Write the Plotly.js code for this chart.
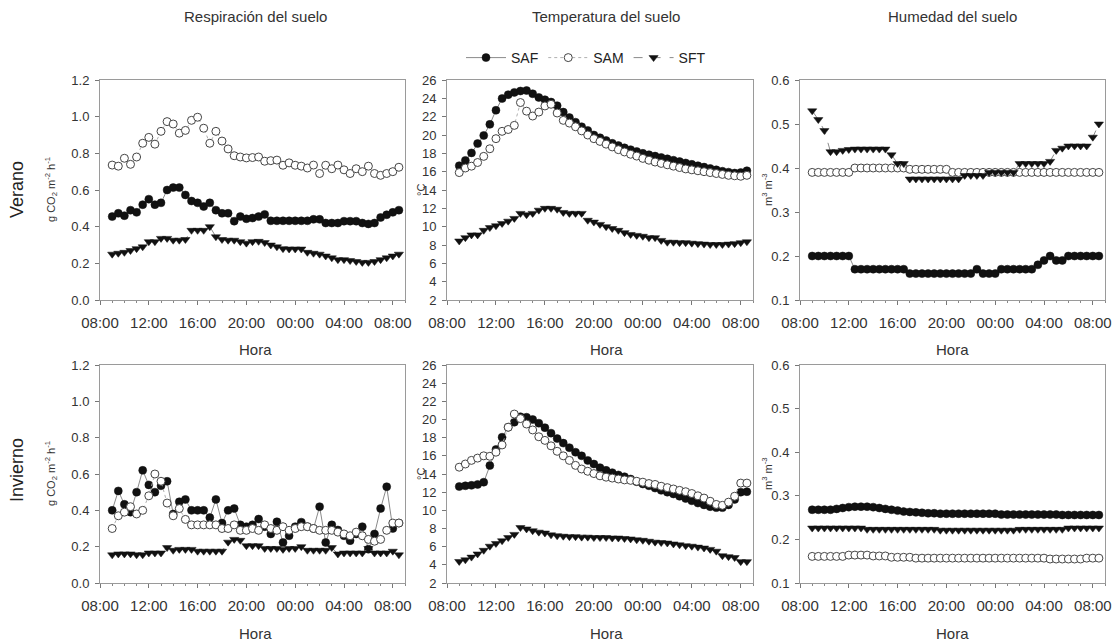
<!DOCTYPE html>
<html>
<head>
<meta charset="utf-8">
<script src="https://cdn.plot.ly/plotly-3.0.1.min.js"></script>
<style>html,body{margin:0;padding:0;background:#fff}#chart{width:1120px;height:642px}</style>
</head>
<body>
<div id="chart"></div>
<script>
// Hours since 00:00 of day 1 (24 = 00:00 next day)
const hours = [9.0, 9.5, 10.0, 10.5, 11.0, 11.5, 12.0, 12.5, 13.0, 13.5, 14.0, 14.5,
  15.0, 15.5, 16.0, 16.5, 17.0, 17.5, 18.0, 18.5, 19.0, 19.5, 20.0, 20.5,
  21.0, 21.5, 22.0, 22.5, 23.0, 23.5, 24.0, 24.5, 25.0, 25.5, 26.0, 26.5,
  27.0, 27.5, 28.0, 28.5, 29.0, 29.5, 30.0, 30.5, 31.0, 31.5, 32.0, 32.5];

const tickVals = [8, 12, 16, 20, 24, 28, 32];
const tickText = ["08:00", "12:00", "16:00", "20:00", "00:00", "04:00", "08:00"];

const seriesNames = ["SAF", "SAM", "SFT"];
const columnTitles = ["Respiración del suelo", "Temperatura del suelo", "Humedad del suelo"];
const rowTitles = ["Verano", "Invierno"];
const yTitles = ["g CO<sub>2</sub> m<sup>-2</sup> h<sup>-1</sup>", "°C", "m<sup>3</sup> m<sup>-3</sup>"];
const xTitle = "Hora";

// Respiración del suelo (g CO2 m-2 h-1) - Verano
const respVeranoSAF = [0.455,0.473,0.46,0.49,0.478,0.52,0.55,0.52,0.53,0.60,0.613,0.613,
  0.573,0.54,0.53,0.51,0.53,0.49,0.473,0.473,0.43,0.455,0.443,0.447,
  0.455,0.467,0.432,0.432,0.432,0.432,0.432,0.432,0.432,0.44,0.44,0.42,
  0.42,0.42,0.43,0.43,0.43,0.42,0.415,0.42,0.45,0.465,0.478,0.49];
const respVeranoSAM = [0.736,0.73,0.773,0.74,0.78,0.855,0.887,0.85,0.92,0.973,0.96,0.91,
  0.925,0.98,0.997,0.937,0.855,0.92,0.867,0.824,0.787,0.78,0.775,0.777,
  0.78,0.757,0.76,0.763,0.735,0.748,0.735,0.73,0.72,0.736,0.69,0.735,
  0.716,0.736,0.71,0.69,0.716,0.70,0.73,0.69,0.68,0.69,0.70,0.724];
const respVeranoSFT = [0.25,0.255,0.26,0.27,0.28,0.29,0.318,0.318,0.336,0.336,0.326,0.326,
  0.33,0.38,0.38,0.38,0.40,0.345,0.33,0.326,0.326,0.318,0.31,0.318,
  0.32,0.313,0.30,0.29,0.28,0.278,0.278,0.278,0.26,0.255,0.25,0.24,
  0.23,0.22,0.22,0.215,0.21,0.205,0.205,0.21,0.22,0.23,0.24,0.25];

// Respiración del suelo - Invierno
const respInviernoSAF = [0.40,0.507,0.433,0.39,0.50,0.62,0.54,0.50,0.535,0.56,0.38,0.447,
  0.46,0.40,0.40,0.40,0.36,0.46,0.33,0.40,0.41,0.32,0.31,0.32,
  0.352,0.31,0.27,0.337,0.223,0.26,0.31,0.335,0.31,0.30,0.42,0.223,
  0.32,0.292,0.26,0.233,0.27,0.31,0.186,0.27,0.41,0.53,0.30,0.33];
const respInviernoSAM = [0.30,0.37,0.39,0.42,0.38,0.40,0.48,0.60,0.56,0.44,0.37,0.41,
  0.35,0.32,0.32,0.32,0.32,0.32,0.30,0.30,0.32,0.29,0.29,0.30,
  0.29,0.32,0.30,0.29,0.31,0.29,0.30,0.31,0.31,0.30,0.29,0.29,
  0.29,0.28,0.27,0.26,0.28,0.26,0.24,0.23,0.24,0.29,0.33,0.33];
const respInviernoSFT = [0.155,0.16,0.16,0.16,0.155,0.155,0.165,0.165,0.165,0.195,0.18,0.185,
  0.185,0.185,0.175,0.175,0.175,0.175,0.175,0.225,0.24,0.235,0.205,0.205,
  0.205,0.19,0.19,0.19,0.185,0.19,0.19,0.20,0.18,0.18,0.18,0.18,
  0.195,0.16,0.165,0.165,0.165,0.165,0.19,0.165,0.165,0.165,0.175,0.155];

// Temperatura del suelo (°C) - Verano
const tempVeranoSAF = [16.65,17.23,18.05,19.07,19.95,21.16,22.7,23.98,24.4,24.65,24.8,24.85,
  24.5,24.1,23.85,23.6,23.2,22.5,21.9,21.4,20.9,20.5,20.0,19.7,
  19.4,19.1,18.85,18.6,18.4,18.2,18.0,17.85,17.7,17.55,17.4,17.25,
  17.1,16.95,16.8,16.65,16.5,16.35,16.2,16.05,15.95,15.85,15.9,16.1];
const tempVeranoSAM = [15.9,16.4,16.6,17.0,17.67,18.5,19.6,20.4,20.6,21.05,23.54,22.6,
  22.07,22.5,23.17,23.35,22.4,21.6,21.3,20.9,20.45,20.0,19.6,19.3,
  19.0,18.7,18.4,18.15,17.9,17.7,17.45,17.25,17.05,16.9,16.75,16.6,
  16.45,16.3,16.2,16.1,16.0,15.9,15.8,15.7,15.6,15.55,15.5,15.6];
const tempVeranoSFT = [8.44,8.8,9.1,9.1,9.6,9.9,10.1,10.35,10.6,10.9,11.45,11.3,
  11.45,11.8,12.0,12.0,11.9,11.55,11.45,11.45,11.45,10.7,10.5,10.25,
  10.0,9.8,9.6,9.35,9.15,9.05,8.95,8.8,8.8,8.5,8.3,8.3,
  8.25,8.25,8.2,8.15,8.1,8.05,8.05,8.05,8.1,8.15,8.25,8.35];

// Temperatura del suelo - Invierno
const tempInviernoSAF = [12.62,12.7,12.75,12.85,13.1,14.93,16.7,18.05,19.15,19.7,20.3,20.25,
  20.0,19.6,19.1,18.5,17.9,17.4,16.9,16.4,16.0,15.5,15.1,14.7,
  14.4,14.15,13.9,13.7,13.45,13.15,12.9,12.7,12.45,12.2,12.0,11.8,
  11.55,11.3,11.05,10.8,10.6,10.4,10.3,10.3,10.6,11.2,12.0,12.05];
const tempInviernoSAM = [14.75,15.1,15.5,15.75,16.0,15.95,16.4,17.2,19.15,20.6,20.1,19.5,
  18.85,18.1,17.7,17.1,16.5,16.0,15.5,14.95,14.55,14.3,14.05,13.8,
  13.65,13.55,13.45,13.35,13.3,13.2,13.1,12.95,12.85,12.65,12.5,12.35,
  12.2,12.05,11.85,11.6,11.35,11.0,10.65,10.55,10.9,11.55,13.0,13.0];
const tempInviernoSFT = [4.37,4.55,4.85,5.2,5.6,6.05,6.35,6.65,7.0,7.35,8.1,7.95,
  7.75,7.6,7.5,7.3,7.2,7.15,7.1,7.1,7.05,7.05,7.0,7.0,
  7.0,6.95,6.95,6.9,6.85,6.75,6.7,6.6,6.5,6.45,6.4,6.3,
  6.2,6.1,6.05,5.95,5.85,5.7,5.5,5.0,4.9,4.8,4.35,4.35];

// Humedad del suelo (m3 m-3) - Verano
const humVeranoSAF = [0.20,0.20,0.20,0.20,0.20,0.20,0.20,0.17,0.17,0.17,0.17,0.17,
  0.17,0.17,0.17,0.17,0.16,0.16,0.16,0.16,0.16,0.16,0.16,0.16,
  0.16,0.16,0.16,0.17,0.16,0.16,0.16,0.17,0.17,0.17,0.17,0.17,
  0.17,0.18,0.19,0.20,0.19,0.19,0.20,0.20,0.20,0.20,0.20,0.20];
const humVeranoSAM = [0.39,0.39,0.39,0.39,0.39,0.39,0.39,0.40,0.40,0.40,0.40,0.40,
  0.40,0.40,0.40,0.40,0.397,0.397,0.397,0.397,0.397,0.397,0.397,0.39,
  0.39,0.39,0.39,0.39,0.39,0.39,0.39,0.39,0.39,0.39,0.39,0.39,
  0.39,0.39,0.39,0.39,0.39,0.39,0.39,0.39,0.39,0.39,0.39,0.39];
const humVeranoSFT = [0.53,0.51,0.485,0.437,0.437,0.44,0.442,0.443,0.443,0.443,0.443,0.443,
  0.443,0.43,0.41,0.41,0.375,0.375,0.375,0.375,0.375,0.375,0.375,0.375,
  0.375,0.383,0.383,0.383,0.383,0.39,0.39,0.39,0.39,0.39,0.41,0.41,
  0.41,0.41,0.41,0.415,0.44,0.445,0.45,0.45,0.45,0.45,0.47,0.50];

// Humedad del suelo - Invierno
const humInviernoSAF = [0.268,0.268,0.268,0.268,0.27,0.272,0.274,0.275,0.275,0.275,0.274,0.272,
  0.27,0.268,0.266,0.264,0.263,0.262,0.261,0.26,0.26,0.259,0.259,0.259,
  0.259,0.259,0.259,0.259,0.259,0.259,0.259,0.257,0.257,0.257,0.257,0.257,
  0.257,0.257,0.257,0.257,0.257,0.256,0.256,0.256,0.256,0.256,0.256,0.256];
const humInviernoSAM = [0.161,0.161,0.161,0.161,0.161,0.161,0.164,0.164,0.164,0.164,0.162,0.162,
  0.162,0.159,0.159,0.159,0.159,0.157,0.157,0.157,0.157,0.157,0.157,0.157,
  0.157,0.157,0.157,0.157,0.157,0.157,0.157,0.157,0.157,0.157,0.157,0.157,
  0.157,0.157,0.157,0.155,0.155,0.155,0.155,0.155,0.155,0.157,0.157,0.157];
const humInviernoSFT = [0.226,0.226,0.226,0.226,0.226,0.226,0.226,0.226,0.226,0.223,0.223,0.223,
  0.223,0.223,0.223,0.223,0.223,0.223,0.223,0.223,0.223,0.221,0.221,0.221,
  0.221,0.221,0.221,0.221,0.221,0.221,0.221,0.221,0.221,0.221,0.223,0.223,
  0.223,0.223,0.223,0.223,0.223,0.223,0.226,0.226,0.226,0.226,0.226,0.226];

const panels = [
  [respVeranoSAF, respVeranoSAM, respVeranoSFT],
  [tempVeranoSAF, tempVeranoSAM, tempVeranoSFT],
  [humVeranoSAF, humVeranoSAM, humVeranoSFT],
  [respInviernoSAF, respInviernoSAM, respInviernoSFT],
  [tempInviernoSAF, tempInviernoSAM, tempInviernoSFT],
  [humInviernoSAF, humInviernoSAM, humInviernoSFT]
];

// ---------- styling ----------
const FONT = "Liberation Sans, Arial, sans-serif";
const W = 1120, H = 642;
const px = v => v / W;
const py = v => 1 - v / H;

const styles = [
  {mode: "lines+markers", line: {color: "#8a8a8a", width: 1, dash: "solid"},
   marker: {symbol: "circle", size: 8, color: "#111", line: {color: "#111", width: 0.5}}},
  {mode: "lines+markers", line: {color: "#b0b0b0", width: 1, dash: "dot"},
   marker: {symbol: "circle", size: 8, color: "#fff", line: {color: "#444", width: 1}}},
  {mode: "lines+markers", line: {color: "#8a8a8a", width: 1, dash: "dash"},
   marker: {symbol: "triangle-down", size: 8, color: "#111", line: {color: "#111", width: 0.5}}}
];

const xDomains = [[px(100), px(405)], [px(447), px(753)], [px(800), px(1105)]];
const yDomains = [[py(300), py(80)], [py(583), py(365)]];
const yRanges = [[0, 1.2], [2, 26], [0.1, 0.6]];
const yDticks = [0.2, 2, 0.1];
const yFormats = [".1f", "d", ".1f"];

const traces = [];
const layout = {
  width: W, height: H,
  margin: {l: 0, r: 0, t: 0, b: 0},
  paper_bgcolor: "#fff", plot_bgcolor: "#fff",
  font: {family: FONT, color: "#333"},
  showlegend: true,
  legend: {orientation: "h", x: px(586), y: py(58), xanchor: "center", yanchor: "middle",
           font: {family: FONT, size: 14, color: "#222"}, itemwidth: 40, bgcolor: "rgba(0,0,0,0)"},
  annotations: []
};

panels.forEach((series, p) => {
  const col = p % 3, row = Math.floor(p / 3);
  const n = p + 1;
  const sfx = n === 1 ? "" : String(n);
  series.forEach((vals, s) => {
    traces.push(Object.assign({
      type: "scatter", x: hours, y: vals, name: seriesNames[s],
      xaxis: "x" + sfx, yaxis: "y" + sfx,
      showlegend: p === 0, cliponaxis: false
    }, JSON.parse(JSON.stringify(styles[s]))));
  });
  layout["xaxis" + sfx] = {
    domain: xDomains[col], anchor: "y" + sfx,
    range: [8, 33], tickmode: "array", tickvals: tickVals, ticktext: tickText,
    showline: true, mirror: true, linecolor: "#9a9a9a", linewidth: 1,
    ticks: "outside", ticklen: 4, tickcolor: "#777", showgrid: false, zeroline: false,
    ticklabelstandoff: 5,
    tickfont: {family: FONT, size: 15, color: "#333"},
    minor: {tickmode: "linear", tick0: 8, dtick: 1, ticks: "outside", ticklen: 2, tickcolor: "#888", showgrid: false},
    fixedrange: true
  };
  layout["yaxis" + sfx] = {
    domain: yDomains[row], anchor: "x" + sfx,
    range: yRanges[col], dtick: yDticks[col], tick0: yRanges[col][0], tickformat: yFormats[col],
    showline: true, mirror: true, linecolor: "#9a9a9a", linewidth: 1,
    ticks: "outside", ticklen: 4, tickcolor: "#777", showgrid: false, zeroline: false,
    ticklabelstandoff: 3,
    tickfont: {family: FONT, size: 13, color: "#333"},
    fixedrange: true
  };
});

// Column titles
const colCenters = [255, 606, 952];
columnTitles.forEach((t, i) => layout.annotations.push({
  text: t, xref: "paper", yref: "paper", x: px(colCenters[i]), y: py(17),
  xanchor: "center", yanchor: "middle", showarrow: false,
  font: {family: FONT, size: 15, color: "#333"}
}));
// X axis titles
[350, 633].forEach(yy => colCenters.forEach(cx => layout.annotations.push({
  text: xTitle, xref: "paper", yref: "paper", x: px(cx), y: py(yy),
  xanchor: "center", yanchor: "middle", showarrow: false,
  font: {family: FONT, size: 15, color: "#333"}
})));
// Row titles
[190, 470].forEach((yy, r) => layout.annotations.push({
  text: rowTitles[r], xref: "paper", yref: "paper", x: px(17), y: py(yy),
  xanchor: "center", yanchor: "middle", textangle: -90, showarrow: false,
  font: {family: FONT, size: 18, color: "#222"}
}));
// Y axis titles
const yTitleX = [51, 421, 767];
[190, 474].forEach(yy => yTitles.forEach((t, c) => layout.annotations.push({
  text: t, xref: "paper", yref: "paper", x: px(yTitleX[c]), y: py(yy),
  xanchor: "center", yanchor: "middle", textangle: -90, showarrow: false,
  font: {family: FONT, size: 11, color: "#333"}
})));

Plotly.newPlot("chart", traces, layout, {staticPlot: true, displayModeBar: false});
</script>
</body>
</html>
